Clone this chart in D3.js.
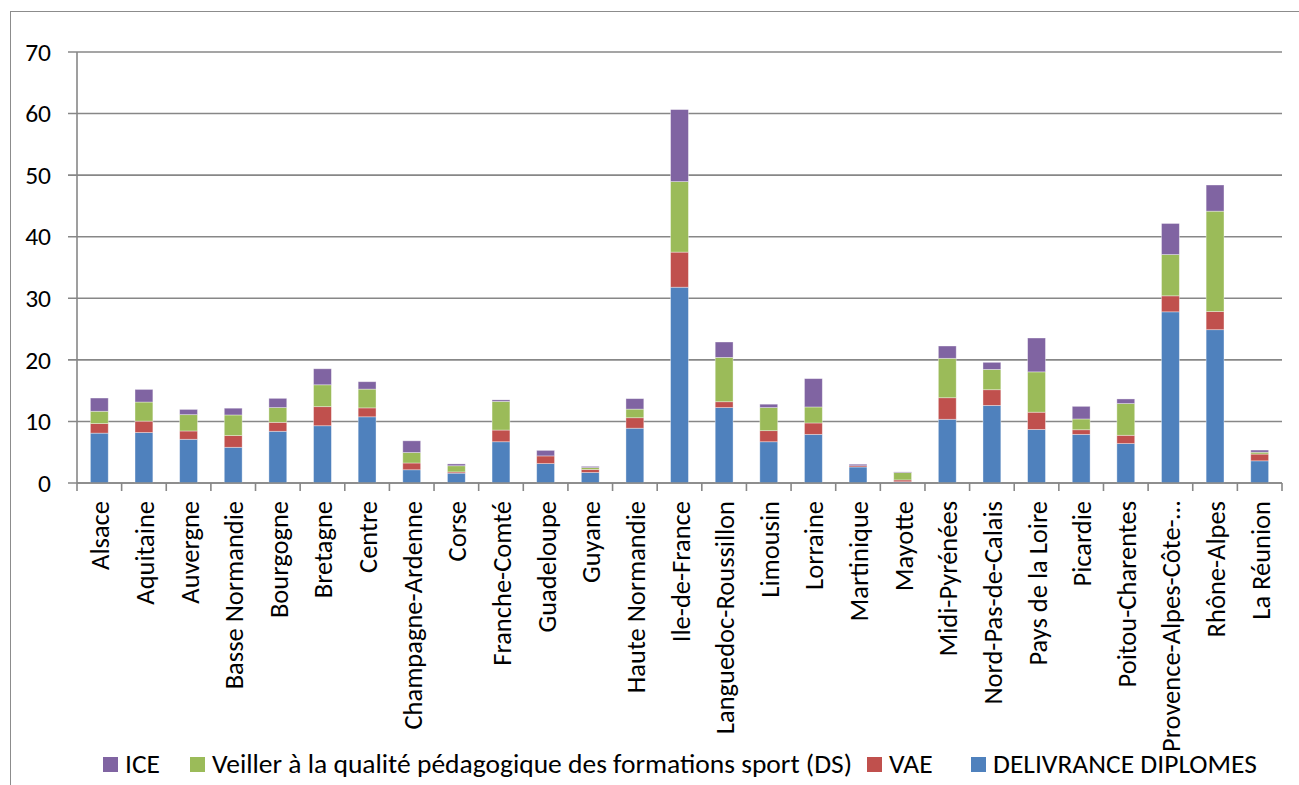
<!DOCTYPE html>
<html>
<head>
<meta charset="utf-8">
<script src="https://cdn.jsdelivr.net/npm/d3@7"></script>
<style>
  html, body { margin: 0; padding: 0; background: #fff; }
  svg { display: block; }
  text { font-family: Carlito, Lato, "Open Sans", sans-serif; fill: #000; }
</style>
</head>
<body>
<svg id="chart" width="1299" height="785"></svg>
<script>
// Regions (x axis)
const categories = [
  "Alsace", "Aquitaine", "Auvergne", "Basse Normandie", "Bourgogne", "Bretagne",
  "Centre", "Champagne-Ardenne", "Corse", "Franche-Comté", "Guadeloupe", "Guyane",
  "Haute Normandie", "Ile-de-France", "Languedoc-Roussillon", "Limousin", "Lorraine",
  "Martinique", "Mayotte", "Midi-Pyrénées", "Nord-Pas-de-Calais", "Pays de la Loire",
  "Picardie", "Poitou-Charentes", "Provence-Alpes-Côte-…", "Rhône-Alpes", "La Réunion"
];

// Series values, stacked bottom to top
const delivranceDiplomes = [8.1, 8.2, 7.1, 5.8, 8.4, 9.3, 10.75, 2.15, 1.6, 6.7, 3.15, 1.7, 8.9, 31.8, 12.25, 6.7, 7.9, 2.6, 0.2, 10.35, 12.6, 8.7, 7.9, 6.4, 27.8, 24.9, 3.6];
const vae = [1.55, 1.85, 1.35, 1.9, 1.45, 3.1, 1.45, 1.1, 0.2, 1.9, 1.25, 0.5, 1.7, 5.7, 0.95, 1.8, 1.85, 0.2, 0.3, 3.5, 2.55, 2.8, 0.75, 1.35, 2.6, 2.95, 1.1];
const veiller = [2.0, 3.1, 2.65, 3.35, 2.4, 3.55, 3.05, 1.7, 1.0, 4.65, 0, 0.3, 1.4, 11.45, 7.2, 3.75, 2.6, 0, 1.2, 6.4, 3.3, 6.55, 1.75, 5.15, 6.7, 16.3, 0.3];
const ice = [2.15, 2.05, 0.85, 1.1, 1.5, 2.6, 1.2, 1.9, 0.3, 0.25, 0.9, 0.2, 1.7, 11.7, 2.5, 0.55, 4.6, 0.25, 0.1, 2.0, 1.15, 5.5, 2.05, 0.75, 5.05, 4.25, 0.35];

// Series names
const seriesNames = ["DELIVRANCE DIPLOMES", "VAE", "Veiller à la qualité pédagogique des formations sport (DS)", "ICE"];
const legendOrder = ["ICE", "Veiller à la qualité pédagogique des formations sport (DS)", "VAE", "DELIVRANCE DIPLOMES"];

// Y axis ticks
const yTicks = [0, 10, 20, 30, 40, 50, 60, 70];

const colors = {
  "DELIVRANCE DIPLOMES": "#4F81BD",
  "VAE": "#C0504D",
  "Veiller à la qualité pédagogique des formations sport (DS)": "#9BBB59",
  "ICE": "#8064A2"
};

const seriesValues = [delivranceDiplomes, vae, veiller, ice];
const rows = categories.map((c, i) => {
  const r = { region: c };
  seriesNames.forEach((s, k) => { r[s] = seriesValues[k][i]; });
  return r;
});

const svg = d3.select("#chart");

// Outer chart frame
svg.append("rect")
  .attr("x", 10.5).attr("y", 11.5)
  .attr("width", 1400).attr("height", 900)
  .attr("fill", "none").attr("stroke", "#8c8c8c").attr("stroke-width", 1);

const plot = { left: 77, right: 1282, top: 52, bottom: 483 };

const x = d3.scaleBand()
  .domain(categories)
  .range([plot.left, plot.right])
  .paddingInner(0.6)
  .paddingOuter(0.3);

const y = d3.scaleLinear().domain([0, 70]).range([plot.bottom, plot.top]);

const gridColor = "#878787";

// Horizontal gridlines (with the short tick stub left of the axis)
svg.append("g").selectAll("line")
  .data(yTicks)
  .join("line")
  .attr("x1", plot.left - 9).attr("x2", plot.right)
  .attr("y1", d => y(d)).attr("y2", d => y(d))
  .attr("stroke", gridColor).attr("stroke-width", 1.6);

// Y axis labels
const yAxis = d3.axisLeft(y).tickValues(yTicks).tickSize(0).tickPadding(0).tickFormat(d3.format("d"));
const gy = svg.append("g").attr("transform", `translate(${plot.left - 26},0)`).call(yAxis);
gy.select(".domain").remove();
gy.selectAll("text")
  .attr("font-size", 25.5)
  .attr("font-family", "Carlito, Lato, sans-serif")
  .attr("fill", "#000");

// Stacked bars
const stack = d3.stack().keys(seriesNames);
const stacked = stack(rows);

svg.append("g").selectAll("g")
  .data(stacked)
  .join("g")
  .attr("fill", d => colors[d.key])
  .selectAll("rect")
  .data(d => d)
  .join("rect")
  .attr("x", d => x(d.data.region))
  .attr("width", x.bandwidth())
  .attr("y", d => y(d[1]))
  .attr("height", d => Math.max(0, y(d[0]) - y(d[1])))
  .attr("stroke", "rgba(255,255,255,0.45)")
  .attr("stroke-width", 0.8);

// Y axis line
svg.append("line")
  .attr("x1", plot.left).attr("x2", plot.left)
  .attr("y1", plot.top).attr("y2", plot.bottom)
  .attr("stroke", gridColor).attr("stroke-width", 1.6);

// X axis line and category boundary ticks
svg.append("line")
  .attr("x1", plot.left).attr("x2", plot.right)
  .attr("y1", plot.bottom).attr("y2", plot.bottom)
  .attr("stroke", gridColor).attr("stroke-width", 1.6);

const step = x.step();
const boundaries = d3.range(categories.length + 1).map(i => plot.left + i * step);
svg.append("g").selectAll("line")
  .data(boundaries)
  .join("line")
  .attr("x1", d => d).attr("x2", d => d)
  .attr("y1", plot.bottom).attr("y2", plot.bottom + 8)
  .attr("stroke", gridColor).attr("stroke-width", 1.6);

// Rotated category labels
svg.append("g").selectAll("text")
  .data(categories)
  .join("text")
  .attr("transform", d => `translate(${x(d) + x.bandwidth() / 2 + 10},${plot.bottom + 18}) rotate(-90)`)
  .attr("text-anchor", "end")
  .attr("font-size", 26.5)
  .text(d => d);

// Legend
const legendSquareX = [103, 190, 867, 971];
const ly = 757;
const legend = svg.append("g");
legendOrder.forEach((name, i) => {
  const g = legend.append("g");
  g.append("rect")
    .attr("x", legendSquareX[i]).attr("y", ly)
    .attr("width", 15).attr("height", 15)
    .attr("fill", colors[name]);
  g.append("text")
    .attr("x", legendSquareX[i] + 22).attr("y", ly + 16)
    .attr("font-size", 27.5)
    .text(name);
});
</script>
</body>
</html>
